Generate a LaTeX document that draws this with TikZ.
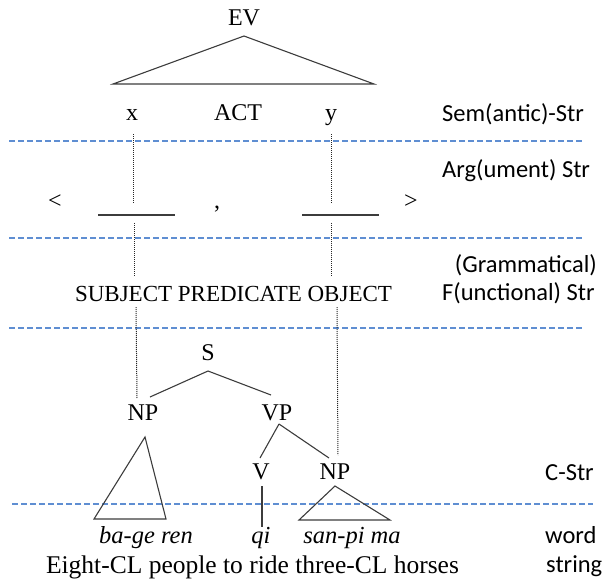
\documentclass[tikz,border=0pt]{standalone}
\usepackage{fontspec}
\setmainfont{Liberation Serif}
\setsansfont{Carlito}
\definecolor{tierblue}{RGB}{95,142,210}
\definecolor{treegray}{RGB}{60,60,60}
\tikzset{
  lbl/.style={inner sep=0pt, anchor=base, font=\fontsize{24}{28}\selectfont},
  tier/.style={inner sep=0pt, anchor=base west, font=\sffamily\fontsize{24.5}{28}\selectfont},
  tierline/.style={tierblue, line width=1.8pt, dash pattern=on 6pt off 3pt},
  branch/.style={treegray, line width=1.1pt},
  link/.style={black!85, line width=1pt, dash pattern=on 1pt off 1pt},
}
\begin{document}
\begin{tikzpicture}[x=1pt,y=-1pt]
\useasboundingbox (0,0) rectangle (603,582);
% Semantic structure
\node[lbl] (EV) at (244,25) {EV};
\coordinate (evtop) at (244,36);
\coordinate (evl) at (113,84);
\coordinate (evr) at (374,84);
\draw[branch] (evtop) -- (evl) -- (evr) -- cycle;
\node[lbl] (x) at (132,120) {x};
\node[lbl] (act) at (238,120) {ACT};
\node[lbl] (y) at (331,120) {y};
\node[tier] (sem) at (442,121) {Sem(antic)-Str};
% tier lines
\coordinate (t1l) at (9,141);   \coordinate (t1r) at (584,141);
\coordinate (t2l) at (9,238);   \coordinate (t2r) at (584,238);
\coordinate (t3l) at (9,328);   \coordinate (t3r) at (584,328);
\coordinate (t4l) at (12,504);  \coordinate (t4r) at (593,504);
\draw[tierline] (t1l) -- (t1r);
\draw[tierline] (t2l) -- (t2r);
\draw[tierline] (t3l) -- (t3r);
\draw[tierline] (t4l) -- (t4r);
% Argument structure
\node[tier] (arg) at (442,177) {Arg(ument) Str};
\node[lbl] (lt) at (55,208) {<};
\node[lbl] (comma) at (217,208) {,};
\node[lbl] (gt) at (411,208) {>};
\coordinate (s1l) at (98,215);  \coordinate (s1r) at (175,215);
\coordinate (s2l) at (302,215); \coordinate (s2r) at (379,215);
\draw[treegray, line width=1.6pt] (s1l) -- (s1r);
\draw[treegray, line width=1.6pt] (s2l) -- (s2r);
% Functional structure
\node[tier, anchor=base east] (gram) at (597,272) {(Grammatical)};
\node[tier] (fstr) at (442,300) {F(unctional) Str};
\node[lbl, font=\fontsize{23}{28}\selectfont] (gf) at (233.5,301) {SUBJECT PREDICATE OBJECT};
% C-structure
\node[lbl] (S) at (208,360) {S};
\node[lbl] (NP1) at (143,420) {NP};
\node[lbl] (VP) at (277,420) {VP};
\node[lbl] (V) at (261,479) {V};
\node[lbl] (NP2) at (335,479) {NP};
\node[tier] (cstr) at (545,480) {C-Str};
\coordinate (Sb) at (208,371);
\coordinate (NP1t) at (150,397);
\coordinate (VPt) at (271,395);
\draw[branch] (Sb) -- (NP1t);
\draw[branch] (Sb) -- (VPt);
\coordinate (VPb) at (279,424);
\coordinate (Vt) at (260,458);
\coordinate (NP2t) at (329,458);
\draw[branch] (VPb) -- (Vt);
\draw[branch] (VPb) -- (NP2t);
\coordinate (np1a) at (145,437);
\coordinate (np1l) at (94,519);
\coordinate (np1r) at (166,519);
\draw[branch] (np1a) -- (np1l) -- (np1r) -- cycle;
\coordinate (Vb) at (262,486);
\coordinate (qit) at (262,527);
\draw[branch] (Vb) -- (qit);
\coordinate (np2a) at (335,486);
\coordinate (np2l) at (299,520);
\coordinate (np2r) at (390,520);
\draw[branch] (np2a) -- (np2l) -- (np2r) -- cycle;
% word string
\node[lbl, font=\itshape\fontsize{24.5}{28}\selectfont] (w1) at (146,543) {ba-ge ren};
\node[lbl, font=\itshape\fontsize{24.5}{28}\selectfont] (w2) at (261,543) {qi};
\node[lbl, font=\itshape\fontsize{24.5}{28}\selectfont] (w3) at (352,543) {san-pi ma};
\node[tier] (word) at (545,543) {word};
\node[lbl, font=\fontsize{25.5}{28}\selectfont] (gloss) at (252.5,573) {Eight-CL people to ride three-CL horses};
\node[tier] (string) at (546,572) {string};
% dotted links
\coordinate (xa) at (133,134);  \coordinate (xb) at (133,204);
\coordinate (xc) at (134,223);  \coordinate (xd) at (134,277);
\coordinate (xe) at (136,307);  \coordinate (xf) at (137,398);
\coordinate (ya) at (331,134);  \coordinate (yb) at (331,204);
\coordinate (yc) at (331,223);  \coordinate (yd) at (331,277);
\coordinate (ye) at (337,307);  \coordinate (yf) at (338,455);
\draw[link] (xa) -- (xb);
\draw[link] (xc) -- (xd);
\draw[link] (xe) -- (xf);
\draw[link] (ya) -- (yb);
\draw[link] (yc) -- (yd);
\draw[link] (ye) -- (yf);
\end{tikzpicture}
\end{document}
